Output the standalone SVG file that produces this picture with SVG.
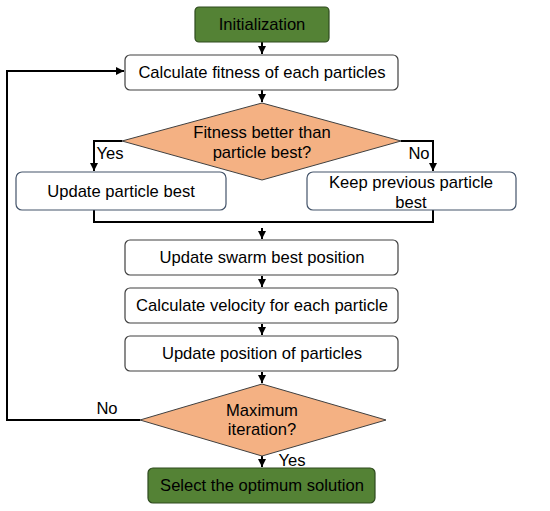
<svg xmlns="http://www.w3.org/2000/svg" width="550" height="511" viewBox="0 0 550 511">
<defs>
<style>
text{font-family:"Liberation Sans",Arial,sans-serif;font-size:16.6px;fill:#000;text-anchor:middle}
.box{fill:#fff;stroke:#404040;stroke-width:1.2}
.bbox{fill:#fff;stroke:#44546A;stroke-width:1.2}
.green{fill:#548235;stroke:#2E4A1E;stroke-width:1.2}
.dia{fill:#F4B183;stroke:#404040;stroke-width:1}
.ln{fill:none;stroke:#000;stroke-width:2}
</style>
<marker id="ah" viewBox="0 0 8 8" refX="8" refY="4" markerWidth="4" markerHeight="4" orient="auto" markerUnits="strokeWidth">
<path d="M0,0 L8,4 L0,8 z" fill="#000"/>
</marker>
</defs>
<rect width="550" height="511" fill="#fff"/>
<g id="connectors">
<line class="ln" x1="262" y1="42" x2="262" y2="54" marker-end="url(#ah)"/>
<line class="ln" x1="262" y1="90" x2="262" y2="102" marker-end="url(#ah)"/>
<polyline class="ln" points="122,141 94,141 94,171" marker-end="url(#ah)"/>
<polyline class="ln" points="401,141 433,141 433,171" marker-end="url(#ah)"/>
<polyline class="ln" points="94,210 94,222 433,222 433,210"/>
<line class="ln" x1="262" y1="228" x2="262" y2="239" marker-end="url(#ah)"/>
<line class="ln" x1="262" y1="276" x2="262" y2="287" marker-end="url(#ah)"/>
<line class="ln" x1="262" y1="324" x2="262" y2="335" marker-end="url(#ah)"/>
<line class="ln" x1="262" y1="372" x2="262" y2="383" marker-end="url(#ah)"/>
<polyline class="ln" points="140,420 7,420 7,71 124,71" marker-end="url(#ah)"/>
<line class="ln" x1="262" y1="456" x2="262" y2="467" marker-end="url(#ah)"/>
<text x="110" y="159">Yes</text>
<text x="419" y="159">No</text>
<text x="107" y="414">No</text>
<text x="292" y="466">Yes</text>
</g>
<g id="init">
<rect class="green" x="195" y="7" width="134" height="35" rx="4"/>
<text x="262" y="30">Initialization</text>
</g>
<g id="fitness">
<rect class="box" x="125" y="55" width="273" height="35" rx="5"/>
<text x="262" y="78">Calculate fitness of each particles</text>
</g>
<g id="decision1">
<polygon class="dia" points="262,103 401,141 262,180 122,141"/>
<text x="262" y="138">Fitness better than</text>
<text x="262" y="158">particle best?</text>
</g>
<g id="update-pbest">
<rect class="bbox" x="16" y="172" width="210" height="38" rx="6"/>
<text x="121" y="197">Update particle best</text>
</g>
<g id="keep-pbest">
<rect class="bbox" x="307" y="172" width="209" height="38" rx="6"/>
<text x="411" y="188">Keep previous particle</text>
<text x="411" y="208">best</text>
</g>
<g id="swarm">
<rect class="box" x="125" y="240" width="273" height="35" rx="5"/>
<text x="262" y="263">Update swarm best position</text>
</g>
<g id="velocity">
<rect class="box" x="125" y="288" width="273" height="35" rx="5"/>
<text x="262" y="311">Calculate velocity for each particle</text>
</g>
<g id="position">
<rect class="box" x="125" y="336" width="273" height="35" rx="5"/>
<text x="262" y="359">Update position of particles</text>
</g>
<g id="decision2">
<polygon class="dia" points="262,384 386,420 262,456 140,420"/>
<text x="262" y="416">Maximum</text>
<text x="262" y="435">iteration?</text>
</g>
<g id="select">
<rect class="green" x="148" y="468" width="227" height="35" rx="5"/>
<text x="262" y="491">Select the optimum solution</text>
</g>
</svg>
